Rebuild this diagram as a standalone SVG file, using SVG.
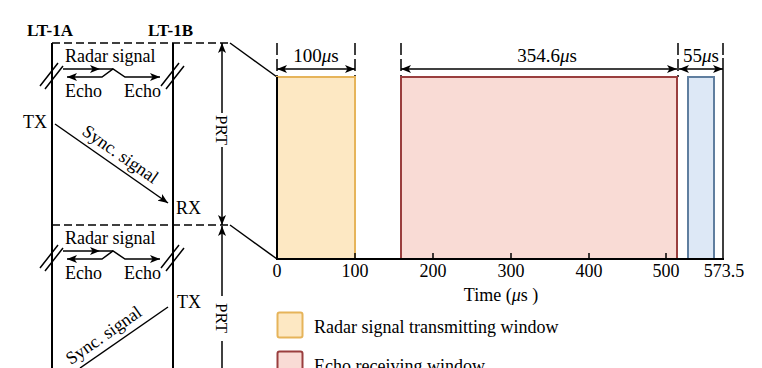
<svg xmlns="http://www.w3.org/2000/svg" width="762" height="368" viewBox="0 0 762 368">
<style>
text{font-family:"Liberation Serif","Times New Roman",serif;fill:#000}
.t18{font-size:18px}
.t17{font-size:17px}
.b{font-weight:bold;font-size:17px}
.ln{stroke:#000;stroke-width:1.5;fill:none}
.thick{stroke:#000;stroke-width:2;fill:none}
.dash{stroke:#000;stroke-width:1.5;stroke-dasharray:8,4;fill:none}
.tick{stroke:#000;stroke-width:1.5;stroke-dasharray:12,4;fill:none}
.arr{marker-end:url(#ah)}
.arr2{marker-start:url(#ah);marker-end:url(#ah)}
</style>
<defs>
<marker id="ah" viewBox="0 0 10 8" refX="10" refY="4" markerWidth="10" markerHeight="8" markerUnits="userSpaceOnUse" orient="auto-start-reverse"><path d="M0,0 L10,4 L0,8 L2.5,4 z" fill="#000"/></marker>
</defs>

<g id="lt1a">
<text class="b" x="27" y="36">LT-1A</text>
<line class="thick" x1="52" y1="43" x2="52" y2="368"/>
</g>
<g id="lt1b">
<text class="b" x="148" y="36">LT-1B</text>
<line class="thick" x1="173" y1="43" x2="173" y2="368"/>
</g>

<g id="connectors">
<!-- PRT boundaries -->
<path class="dash" d="M52,43 H230"/>
<path class="ln" d="M230,43 L277,77"/>
<path class="dash" d="M52,225 H230"/>
<path class="ln" d="M230,225 L277,259"/>
<!-- break marks -->
<path class="ln" d="M40,86 L58,63 M45,89 L63,66 M161,86 L179,63 M166,89 L184,66"/>
<path class="ln" d="M40,268 L58,245 M45,271 L63,248 M161,268 L179,245 M166,271 L184,248"/>
<!-- radar / echo 1 -->
<path class="ln arr" d="M63,69 L100,69"/>
<path class="ln" d="M100,69 L113,69"/>
<path class="ln arr2" d="M67,77 L102,77 L113,69 L125,77 L160,77"/>
<!-- radar / echo 2 -->
<path class="ln arr" d="M63,251 L100,251"/>
<path class="ln" d="M100,251 L113,251"/>
<path class="ln arr2" d="M67,259 L102,259 L113,251 L125,259 L160,259"/>
<!-- sync signals -->
<path class="ln arr" d="M55,124 L168,203"/>
<path class="ln" d="M168,307 L80,368"/>
<!-- PRT arrows -->
<path class="ln arr" d="M222,113 L222,43"/>
<path class="ln arr" d="M222,147 L222,225"/>
<path class="ln arr" d="M222,296 L222,226"/>
<path class="ln" d="M222,341 L222,368"/>
<!-- dimension ticks -->
<path class="tick" d="M277,43 V77 M355,43 V77 M401,43 V77 M678,43 V77"/>
<path class="ln" d="M723,43 V55 M723,58 V259"/>
<!-- dimension arrows -->
<path class="ln arr2" d="M277,69 H355"/>
<path class="ln arr2" d="M401,69 H677"/>
<path class="ln arr2" d="M679,69 H723"/>
</g>

<g id="labels-left">
<text class="t18" x="65" y="62">Radar signal</text>
<text class="t18" x="65" y="97">Echo</text>
<text class="t18" x="124" y="97">Echo</text>
<text class="t18" x="65" y="244">Radar signal</text>
<text class="t18" x="65" y="279">Echo</text>
<text class="t18" x="124" y="279">Echo</text>
<text class="t18" x="23" y="128">TX</text>
<text class="t18" x="176" y="214">RX</text>
<text class="t18" x="177" y="308">TX</text>
<text class="t18" text-anchor="middle" transform="translate(117,159) rotate(35)">Sync. signal</text>
<text class="t18" text-anchor="middle" transform="translate(107,340) rotate(-35)">Sync. signal</text>
<text class="t17" text-anchor="middle" transform="translate(216,130) rotate(90)">PRT</text>
<text class="t17" text-anchor="middle" transform="translate(216,318) rotate(90)">PRT</text>
</g>

<g id="tx-window">
<rect x="277" y="77" width="78" height="182" fill="#fde8c3" stroke="#e6b45a" stroke-width="2"/>
</g>
<g id="echo-window">
<rect x="401" y="77" width="276" height="182" fill="#f9dbd5" stroke="#9a3e3e" stroke-width="2"/>
</g>
<g id="sync-window">
<rect x="688" y="77" width="26" height="182" fill="#dde8f6" stroke="#5f7e9f" stroke-width="2"/>
</g>

<g id="axis">
<path class="thick" d="M277,77 V259 H724"/>
<path class="ln" d="M355,253 V259 M433,253 V259 M511,253 V259 M589,253 V259 M666,253 V259"/>
<g class="t18" text-anchor="middle">
<text x="277" y="277">0</text>
<text x="355" y="277">100</text>
<text x="433" y="277">200</text>
<text x="511" y="277">300</text>
<text x="589" y="277">400</text>
<text x="666" y="277">500</text>
<text x="724" y="277">573.5</text>
</g>
<text class="t18" x="501" y="301" text-anchor="middle">Time (<tspan font-style="italic">μ</tspan>s )</text>
</g>

<g id="dim-labels" class="t18" text-anchor="middle">
<text x="316" y="62" style="font-size:19px">100<tspan font-style="italic">μ</tspan>s</text>
<text x="547" y="62" style="font-size:19px">354.6<tspan font-style="italic">μ</tspan>s</text>
<text x="701" y="62" style="font-size:19px">55<tspan font-style="italic">μ</tspan>s</text>
</g>

<g id="legend">
<rect x="277.5" y="312.5" width="25" height="25" rx="2" fill="#fde8c3" stroke="#e6b45a" stroke-width="2"/>
<text class="t18" x="314" y="333">Radar signal transmitting window</text>
<rect x="277.5" y="351.5" width="25" height="25" rx="2" fill="#f9dbd5" stroke="#9a3e3e" stroke-width="2"/>
<text class="t18" x="314" y="372">Echo receiving window</text>
</g>
</svg>
